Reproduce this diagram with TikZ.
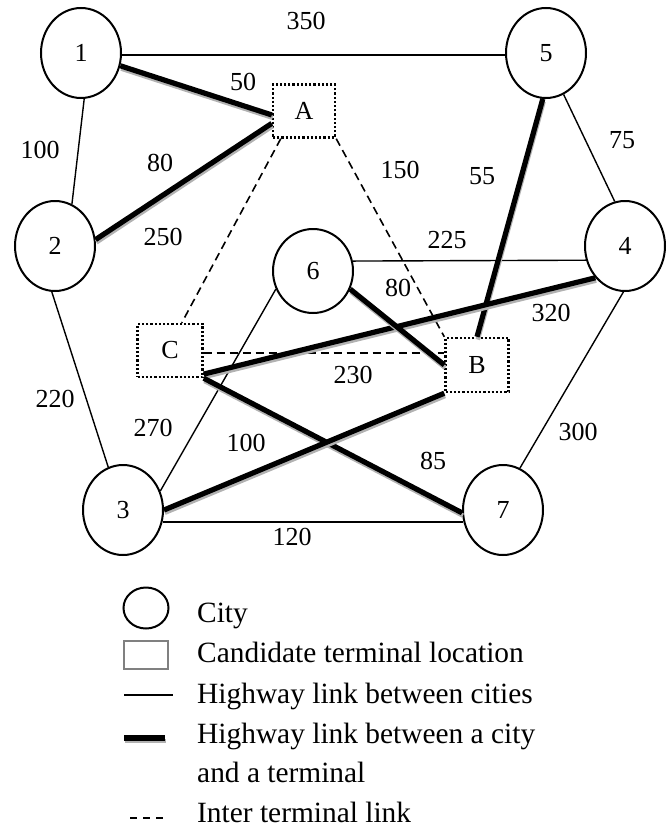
\documentclass[tikz,border=0pt]{standalone}
\usepackage{fontspec}
\setmainfont{Liberation Serif}
\usetikzlibrary{shapes.geometric,calc}
\begin{document}
\begin{tikzpicture}[x=1pt,y=-1pt,
  city/.style={draw, ellipse, line width=2pt, minimum width=80pt, minimum height=90pt, inner sep=0pt, font=\fontsize{26}{30}\selectfont},
  term/.style={draw, dash pattern=on 2.2pt off 2pt, line width=2.4pt, minimum width=62pt, minimum height=53pt, inner sep=0pt, font=\fontsize{26}{30}\selectfont},
  road/.style={line width=1.4pt},
  tlink/.style={line width=5.2pt, preaction={draw=gray!60, line width=4.5pt, transform canvas={shift={(0.8pt,-2.8pt)}}}},
  ilink/.style={dash pattern=on 8pt off 5pt, line width=1.6pt},
  lbl/.style={font=\fontsize{26}{30}\selectfont, inner sep=0pt},
  leg/.style={font=\fontsize{29.4}{34}\selectfont, anchor=base west, inner sep=0pt}]
\useasboundingbox (0,0) rectangle (669,827);

% cities
\node[city] (n1) at (81,53) {1};
\node[city] (n2) at (55,246) {2};
\node[city] (n5) at (546,53) {5};
\node[city] (n4) at (625,246) {4};
\node[city, minimum height=84pt] (n6) at (313,271) {6};
\node[city] (n3) at (123,510) {3};
\node[city] (n7) at (503,510) {7};

% terminals
\node[term] (A) at (304,111) {A};
\node[term, minimum width=65pt] (C) at (170,350.5) {C};
\node[term, minimum width=63pt, minimum height=54pt] (B) at (477,365) {B};

% highway links between cities
\draw[road] (n1.357) -- (n5.183);
\draw[road] (n1.274) -- (n2.68);
\draw[road] (n2.266) -- (n3.109);
\draw[road] (n3.343) -- (n7.197);
\draw[road] (n3.27) -- (n6.206);
\draw[road] (n6.14) -- (n4.200);
\draw[road] (n5.293) -- (n4.103);
\draw[road] (n4.268) -- (n7.68);

% inter terminal links
\draw[ilink] (A.230) -- (C.67);
\draw[ilink] (A.south east) -- (B.north west);
\draw[ilink] ([yshift=-2.5pt]C.east) -- ([yshift=-2.5pt]C.east -| B.west);

% city-terminal links
\draw[tlink] (n1.342) -- (A.187);
\draw[tlink] (n2.9) -- (A.201);
\draw[tlink] (n5.266) -- (B.north);
\draw[tlink] (n4.227) -- (C.325);
\draw[tlink] (n6.334) -- (B.west);
\draw[tlink] (C.south east) -- (n7.184);
\draw[tlink] (n3.0) -- (B.south west);

% labels
\node[lbl] (l350) at (306,21) {350};
\node[lbl] (l50) at (243,82) {50};
\node[lbl] (l100a) at (40,150) {100};
\node[lbl] (l80a) at (160,163) {80};
\node[lbl] (l250) at (163,237) {250};
\node[lbl] (l150) at (400,170) {150};
\node[lbl] (l55) at (482,176) {55};
\node[lbl] (l75) at (622,140) {75};
\node[lbl] (l225) at (447,240) {225};
\node[lbl] (l80b) at (398,288) {80};
\node[lbl] (l320) at (551,313) {320};
\node[lbl] (l230) at (353,375) {230};
\node[lbl] (l220) at (55,399) {220};
\node[lbl] (l270) at (153,428) {270};
\node[lbl] (l100b) at (246,443) {100};
\node[lbl] (l85) at (433,461) {85};
\node[lbl] (l300) at (578,432) {300};
\node[lbl] (l120) at (292,537) {120};

% legend
\node[draw, ellipse, line width=2pt, minimum width=45pt, minimum height=41pt, inner sep=0pt] (kc) at (146,608) {};
\node[draw=gray, line width=2.5pt, minimum width=44pt, minimum height=28pt, inner sep=0pt] (kt) at (146,655) {};
\coordinate (k3a) at (124,695); \coordinate (k3b) at (173,695);
\draw[road] (k3a) -- (k3b);
\coordinate (k4a) at (124,738); \coordinate (k4b) at (165,738);
\draw[tlink, line cap=butt] (k4a) -- (k4b);
\coordinate (k5a) at (130,818); \coordinate (k5b) at (165,818);
\draw[ilink, dash pattern=on 7pt off 6pt] (k5a) -- (k5b);

\node[leg] (t1) at (197,622) {City};
\node[leg] (t2) at (197,662) {Candidate terminal location};
\node[leg] (t3) at (197,703) {Highway link between cities};
\node[leg] (t4) at (197,743) {Highway link between a city};
\node[leg] (t5) at (197,782) {and a terminal};
\node[leg] (t6) at (197,822) {Inter terminal link};
\end{tikzpicture}
\end{document}
